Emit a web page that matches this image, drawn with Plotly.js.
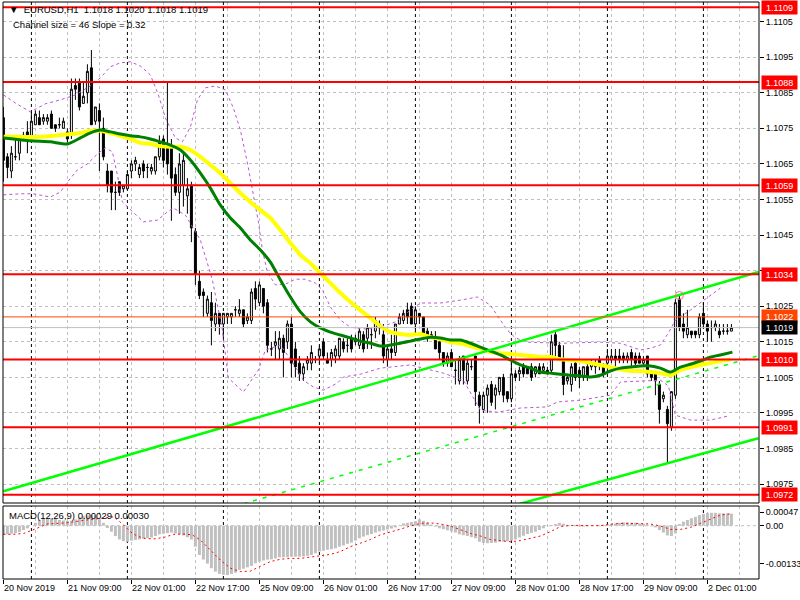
<!DOCTYPE html>
<html><head><meta charset="utf-8">
<script src="https://cdn.plot.ly/plotly-3.0.1.min.js"></script>
<style>html,body{margin:0;padding:0;background:#fff;}#chart{width:800px;height:600px;}</style>
</head><body><div id="chart"></div>
<script>
// ---- candle data (EURUSD H1, bar 0 = 20 Nov 2019 17:00) ----
const barOpen=[1.1078,1.1067,1.1063,1.1067,1.1068,1.1073,1.1074,1.1073,1.1076,1.1078,
1.1077,1.1077,1.1079,1.1076,1.1076,1.1075,1.1074,1.1073,1.1087,1.1088,
1.1082,1.1085,1.1092,1.1077,1.1080,1.1075,1.1063,1.1063,1.1057,1.1060,
1.1058,1.1058,1.1063,1.1065,1.1062,1.1065,1.1064,1.1063,1.1063,1.1067,
1.1072,1.1070,1.1070,1.1062,1.1057,1.1059,1.1056,1.1059,1.1046,1.1032,
1.1029,1.1023,1.1026,1.1020,1.1023,1.1020,1.1022,1.1022,1.1024,1.1023,
1.1024,1.1021,1.1021,1.1030,1.1026,1.1030,1.1026,1.1013,1.1014,1.1013,
1.1016,1.1015,1.1020,1.1013,1.1009,1.1006,1.1009,1.1009,1.1010,1.1011,
1.1015,1.1010,1.1010,1.1011,1.1011,1.1015,1.1014,1.1016,1.1015,1.1014,
1.1017,1.1016,1.1017,1.1018,1.1019,1.1017,1.1010,1.1013,1.1012,1.1020,
1.1021,1.1024,1.1025,1.1020,1.1023,1.1022,1.1018,1.1017,1.1016,1.1015,
1.1012,1.1009,1.1012,1.1007,1.1004,1.1011,1.1004,1.1008,1.1011,1.1000,
1.0996,1.1000,1.1003,1.1000,1.1001,1.1005,1.1001,1.0999,1.1006,1.1006,
1.1008,1.1008,1.1008,1.1006,1.1008,1.1007,1.1007,1.1007,1.1017,1.1014,
1.1010,1.1004,1.1003,1.1009,1.1007,1.1005,1.1008,1.1008,1.1008,1.1010,
1.1008,1.1009,1.1010,1.1011,1.1011,1.1011,1.1010,1.1012,1.1011,1.1011,
1.1009,1.1011,1.1006,1.1006,1.1003,1.0999,1.0996,1.0991,1.1000,1.1027,
1.1020,1.1017,1.1018,1.1018,1.1017,1.1023,1.1020,1.1019,1.1019,1.1018,
1.1018,1.1018,1.1018];
const barHigh=[1.1081,1.1068,1.1070,1.1073,1.1073,1.1074,1.1077,1.1080,1.1080,1.1080,
1.1079,1.1079,1.1080,1.1076,1.1078,1.1078,1.1075,1.1089,1.1089,1.1089,
1.1088,1.1093,1.1097,1.1081,1.1082,1.1078,1.1065,1.1063,1.1060,1.1060,
1.1059,1.1063,1.1066,1.1067,1.1065,1.1066,1.1065,1.1065,1.1067,1.1073,
1.1073,1.1088,1.1072,1.1064,1.1068,1.1068,1.1061,1.1060,1.1047,1.1035,
1.1030,1.1028,1.1029,1.1026,1.1023,1.1023,1.1023,1.1023,1.1025,1.1027,
1.1024,1.1023,1.1030,1.1032,1.1032,1.1030,1.1027,1.1015,1.1018,1.1018,
1.1017,1.1021,1.1022,1.1015,1.1011,1.1009,1.1011,1.1014,1.1011,1.1014,
1.1016,1.1012,1.1013,1.1014,1.1016,1.1016,1.1016,1.1017,1.1017,1.1019,
1.1018,1.1020,1.1019,1.1022,1.1021,1.1020,1.1014,1.1017,1.1020,1.1023,
1.1024,1.1026,1.1026,1.1025,1.1023,1.1022,1.1019,1.1018,1.1018,1.1015,
1.1012,1.1012,1.1013,1.1010,1.1011,1.1011,1.1010,1.1010,1.1011,1.1001,
1.1001,1.1003,1.1004,1.1003,1.1005,1.1006,1.1001,1.1009,1.1007,1.1008,
1.1009,1.1008,1.1009,1.1008,1.1009,1.1009,1.1008,1.1017,1.1018,1.1015,
1.1014,1.1006,1.1009,1.1010,1.1008,1.1008,1.1009,1.1010,1.1010,1.1011,
1.1009,1.1013,1.1013,1.1013,1.1013,1.1012,1.1012,1.1013,1.1012,1.1012,
1.1011,1.1011,1.1007,1.1006,1.1004,1.1001,1.0997,1.1001,1.1027,1.1028,
1.1023,1.1024,1.1018,1.1018,1.1023,1.1026,1.1021,1.1021,1.1021,1.1020,
1.1020,1.1020,1.1020];
const barLow=[1.1060,1.1061,1.1061,1.1066,1.1066,1.1072,1.1068,1.1072,1.1076,1.1076,
1.1076,1.1076,1.1075,1.1074,1.1075,1.1075,1.1071,1.1072,1.1083,1.1080,
1.1082,1.1082,1.1076,1.1076,1.1063,1.1066,1.1057,1.1052,1.1052,1.1056,
1.1057,1.1058,1.1061,1.1063,1.1061,1.1061,1.1061,1.1062,1.1062,1.1066,
1.1064,1.1062,1.1049,1.1056,1.1051,1.1053,1.1051,1.1043,1.1031,1.1027,
1.1022,1.1022,1.1014,1.1018,1.1017,1.1016,1.1020,1.1020,1.1022,1.1022,
1.1019,1.1020,1.1020,1.1024,1.1025,1.1023,1.1012,1.1011,1.1010,1.1010,
1.1005,1.1013,1.1005,1.1005,1.1004,1.1004,1.1007,1.1007,1.1009,1.1009,
1.1010,1.1009,1.1008,1.1009,1.1010,1.1012,1.1012,1.1012,1.1014,1.1013,
1.1012,1.1013,1.1013,1.1016,1.1017,1.1009,1.1008,1.1010,1.1011,1.1020,
1.1020,1.1020,1.1020,1.1017,1.1020,1.1016,1.1015,1.1016,1.1013,1.1010,
1.1008,1.1008,1.1008,1.1003,1.1003,1.1003,1.1003,1.1007,1.0997,1.0992,
1.0995,1.0995,1.0997,1.0996,1.1000,1.0998,1.0998,1.0998,1.1004,1.1004,
1.1005,1.1006,1.1004,1.1005,1.1006,1.1006,1.1006,1.1006,1.1011,1.1010,
1.1000,1.1003,1.1001,1.1004,1.1002,1.1004,1.1004,1.1007,1.1006,1.1007,
1.1005,1.1008,1.1009,1.1008,1.1009,1.1009,1.1009,1.1008,1.1008,1.1009,
1.1008,1.1005,1.1004,1.1000,1.0992,1.0998,1.0981,1.0990,1.0999,1.1018,
1.1016,1.1016,1.1016,1.1016,1.1016,1.1019,1.1015,1.1015,1.1018,1.1016,
1.1017,1.1017,1.1018];
const barClose=[1.1066,1.1064,1.1068,1.1067,1.1072,1.1073,1.1072,1.1077,1.1079,1.1076,
1.1078,1.1078,1.1075,1.1075,1.1076,1.1077,1.1072,1.1086,1.1086,1.1081,
1.1084,1.1091,1.1076,1.1081,1.1077,1.1067,1.1059,1.1057,1.1057,1.1057,
1.1059,1.1062,1.1065,1.1066,1.1064,1.1063,1.1064,1.1064,1.1067,1.1071,
1.1066,1.1065,1.1061,1.1057,1.1065,1.1066,1.1058,1.1047,1.1034,1.1028,
1.1028,1.1027,1.1021,1.1023,1.1020,1.1023,1.1023,1.1023,1.1024,1.1024,
1.1020,1.1022,1.1029,1.1027,1.1031,1.1025,1.1014,1.1013,1.1015,1.1016,
1.1012,1.1020,1.1009,1.1008,1.1006,1.1008,1.1010,1.1012,1.1010,1.1013,
1.1011,1.1009,1.1012,1.1013,1.1016,1.1013,1.1014,1.1013,1.1016,1.1018,
1.1013,1.1019,1.1017,1.1021,1.1020,1.1011,1.1013,1.1012,1.1020,1.1022,
1.1023,1.1022,1.1020,1.1024,1.1022,1.1017,1.1016,1.1016,1.1013,1.1012,
1.1009,1.1011,1.1008,1.1007,1.1010,1.1007,1.1009,1.1008,1.1001,1.0997,
1.1000,1.1002,1.0998,1.1002,1.1005,1.1000,1.0999,1.1006,1.1005,1.1007,
1.1006,1.1006,1.1005,1.1008,1.1006,1.1008,1.1006,1.1015,1.1014,1.1010,
1.1003,1.1005,1.1008,1.1005,1.1005,1.1008,1.1005,1.1009,1.1009,1.1009,
1.1006,1.1011,1.1011,1.1010,1.1010,1.1010,1.1011,1.1010,1.1009,1.1009,
1.1010,1.1006,1.1005,1.1004,1.0996,1.1000,1.0992,1.1001,1.1026,1.1019,
1.1018,1.1019,1.1017,1.1017,1.1022,1.1020,1.1018,1.1019,1.1020,1.1017,
1.1018,1.1018,1.1019];

// ---- moving averages (sampled along the bars) ----
const maGreenX=[0,6.75,11.75,16,19.25,21.75,24.25,26.75,29.25,31.75,34.25,36.75,39.25,41.75,44.25,46.75,49.25,51.75,54.25,56.75,59.25,61.75,64.25,66.75,69.25,71.75,74.25,76.75,79.25,81.75,84.25,86.75,89.25,91.75,94.25,96.75,99.25,101.75,104.25,106.75,109.25,111.75,114.25,116.75,119.25,121.75,124.25,126.75,129.25,131.75,134.25,136.75,139.25,141.75,144.25,146.75,149.25,151.75,154.25,156.75,159.25,161.75,164.25,166.75,169.25,171.75,174.25,176.75,179.25,182.25];
const maGreenY=[1.10723,1.10715,1.10712,1.10706,1.10723,1.10737,1.10745,1.10740,1.10734,1.10729,1.10726,1.10720,1.10712,1.10703,1.10689,1.10661,1.10624,1.10582,1.10534,1.10498,1.10470,1.10436,1.10408,1.10374,1.10324,1.10276,1.10234,1.10206,1.10189,1.10177,1.10169,1.10161,1.10152,1.10146,1.10138,1.10141,1.10146,1.10152,1.10158,1.10163,1.10161,1.10155,1.10155,1.10146,1.10135,1.10124,1.10113,1.10099,1.10085,1.10076,1.10065,1.10062,1.10059,1.10056,1.10054,1.10051,1.10056,1.10068,1.10076,1.10079,1.10082,1.10082,1.10076,1.10065,1.10079,1.10087,1.10096,1.10107,1.10113,1.10121];
const maYellowX=[0,4.25,9.25,14.25,19.25,21.75,24.25,26.75,29.25,31.75,34.25,36.75,39.25,41.75,44.25,46.75,49.25,51.75,54.25,56.75,59.25,61.75,64.25,66.75,69.25,71.75,74.25,76.75,79.25,81.75,84.25,86.75,89.25,91.75,94.25,96.75,99.25,101.75,104.25,106.75,109.25,111.75,114.25,116.75,119.25,121.75,124.25,126.75,129.25,131.75,134.25,136.75,139.25,141.75,144.25,149.25,151.75,154.25,156.75,159.25,161.75,164.25,166.75,169.25,171.75,174.25,176.75,179.25,181.75];
const maYellowY=[1.10726,1.10726,1.10726,1.10731,1.10737,1.10743,1.10743,1.10737,1.10729,1.10720,1.10709,1.10706,1.10700,1.10698,1.10698,1.10689,1.10670,1.10647,1.10624,1.10596,1.10568,1.10543,1.10520,1.10498,1.10464,1.10428,1.10394,1.10371,1.10343,1.10315,1.10287,1.10262,1.10239,1.10217,1.10194,1.10177,1.10172,1.10169,1.10172,1.10163,1.10158,1.10149,1.10146,1.10138,1.10130,1.10121,1.10118,1.10116,1.10113,1.10110,1.10107,1.10107,1.10101,1.10099,1.10096,1.10085,1.10079,1.10073,1.10068,1.10068,1.10065,1.10062,1.10056,1.10071,1.10079,1.10085,1.10090,1.10096,1.10101];

// ---- bands (purple dotted) ----
const bandUpX=[0,3,6.75,10.5,14.25,18,21.75,24.25,26.75,29.25,31.75,34.25,36.75,38.75,40.5,43,44.75,46.75,48.5,50.5,53,55.5,57.5,59.25,61,62.5,63.75,64.75,66,68,70.5,73,75.5,78,79.75,81.75,84.25,86.75,90.5,94.25,98,101.75,104.25,109.25,114.25,118.5,121.75,124.25,126,128,131,139.25,149.25,154.25,159.25,161.75,164.25,166.25,168,171.75,174.25,176.75,179.25];
const bandUpY=[1.10844,1.10821,1.10796,1.10819,1.10830,1.10844,1.10869,1.10892,1.10923,1.10934,1.10937,1.10925,1.10900,1.10844,1.10779,1.10723,1.10712,1.10754,1.10830,1.10864,1.10869,1.10858,1.10807,1.10745,1.10653,1.10557,1.10487,1.10408,1.10346,1.10310,1.10312,1.10326,1.10326,1.10315,1.10296,1.10248,1.10211,1.10191,1.10186,1.10191,1.10206,1.10239,1.10259,1.10259,1.10267,1.10276,1.10253,1.10211,1.10183,1.10161,1.10149,1.10146,1.10149,1.10146,1.10127,1.10132,1.10141,1.10175,1.10211,1.10239,1.10259,1.10281,1.10301];
const bandLoX=[0,4.25,7.5,11.75,14.25,16,18.5,21,23.5,25.5,27.25,28.5,29.75,31.75,35,38.5,41,42.5,45.5,49.25,52.25,54.75,56.25,60,63.75,65.5,69.25,72.25,75,77.5,80,83.5,85,89.25,94.25,101.75,110,115,119.25,123.5,129.25,136,138.5,144.25,151.75,154.25,161.75,164.25,166.25,168,171.75,176.75,181];
const bandLoY=[1.10563,1.10566,1.10566,1.10557,1.10571,1.10599,1.10633,1.10650,1.10678,1.10695,1.10684,1.10619,1.10543,1.10521,1.10487,1.10492,1.10515,1.10526,1.10506,1.10436,1.10324,1.10183,1.10048,1.10009,1.10071,1.10127,1.10141,1.10093,1.10042,1.10023,1.10014,1.10034,1.10051,1.10059,1.10076,1.10085,1.10062,1.10042,1.09958,1.09952,1.09964,1.09967,1.09981,1.09986,1.10000,1.10037,1.10040,1.10042,1.10026,1.09944,1.09930,1.09930,1.09941];

// ---- regression channel ----
const chanUpX=[0,188.75], chanUpY=[1.09730,1.10346];
const chanLoX=[125,188.75], chanLoY=[1.09682,1.09879];
const chanMidX=[60,188.75], chanMidY=[1.09695,1.10111];

// ---- horizontal levels ----
const levels=[1.1109,1.1088,1.1059,1.1034,1.1010,1.0991,1.0972];
const askPrice=1.1022, bidPrice=1.1019;
const alertX=[169], alertY=[1.1028];

// ---- MACD(12,26,9) ----
const macdHist=[-0.00032,-0.00030,-0.00028,-0.00026,-0.00022,-0.00015,-0.00009,0.00000,0.00010,0.00020,
0.00026,0.00025,0.00023,0.00024,0.00020,0.00018,0.00017,0.00017,0.00022,0.00029,
0.00033,0.00036,0.00037,0.00035,0.00022,0.00010,-0.00008,-0.00021,-0.00036,-0.00048,
-0.00054,-0.00056,-0.00052,-0.00050,-0.00048,-0.00045,-0.00043,-0.00041,-0.00036,-0.00030,
-0.00028,-0.00026,-0.00024,-0.00027,-0.00030,-0.00034,-0.00040,-0.00048,-0.00073,-0.00102,
-0.00118,-0.00132,-0.00148,-0.00160,-0.00168,-0.00171,-0.00172,-0.00168,-0.00164,-0.00154,
-0.00150,-0.00145,-0.00140,-0.00131,-0.00125,-0.00121,-0.00118,-0.00117,-0.00114,-0.00110,
-0.00110,-0.00110,-0.00108,-0.00108,-0.00108,-0.00107,-0.00105,-0.00102,-0.00096,-0.00090,
-0.00087,-0.00084,-0.00082,-0.00079,-0.00073,-0.00069,-0.00063,-0.00059,-0.00052,-0.00044,
-0.00038,-0.00033,-0.00029,-0.00024,-0.00020,-0.00017,-0.00013,-0.00010,-0.00006,-0.00001,
0.00008,0.00010,0.00013,0.00016,0.00022,0.00017,0.00010,0.00004,-0.00003,-0.00009,
-0.00012,-0.00016,-0.00020,-0.00024,-0.00030,-0.00033,-0.00036,-0.00040,-0.00044,-0.00056,
-0.00060,-0.00061,-0.00060,-0.00059,-0.00056,-0.00056,-0.00054,-0.00052,-0.00048,-0.00041,
-0.00035,-0.00029,-0.00025,-0.00021,-0.00015,-0.00009,-0.00002,0.00002,0.00006,0.00010,
0.00007,0.00003,0.00000,-0.00001,-0.00003,-0.00003,-0.00002,-0.00001,0.00000,0.00001,
0.00002,0.00005,0.00007,0.00008,0.00010,0.00012,0.00011,0.00010,0.00010,0.00008,
0.00007,0.00003,-0.00002,-0.00006,-0.00015,-0.00024,-0.00034,-0.00036,-0.00027,0.00006,
0.00014,0.00020,0.00026,0.00031,0.00037,0.00041,0.00044,0.00045,0.00045,0.00043,
0.00043,0.00043,0.00042];
const macdSigX=[0,2.6,5.1,6.75,8.4,10.9,15.9,20.9,24.25,27.6,30.1,31.75,33.4,35.1,37.6,40.1,42.6,45.1,47.2,49.25,51.75,54.25,56.75,59.25,61.75,64.25,66.75,69.25,71.75,74.25,76.75,79.25,81.75,84.25,86.75,89.25,91.75,94.25,96.75,99.25,101.75,104.25,106.75,109.25,111.75,114.25,116.75,119.25,121.75,124.25,126.75,129.25,131.75,134.25,136.75,139.25,141.75,144.25,146.75,149.25,151.75,154.25,156.75,159.25,161.75,164.25,166.75,169.25,171.75,174.25,176.75,179.25,181.75];
const macdSigY=[-0.00030,-0.00030,-0.00027,-0.00019,-0.00009,0.00006,0.00010,0.00020,0.00026,0.00031,0.00002,-0.00021,-0.00036,-0.00044,-0.00046,-0.00041,-0.00030,-0.00029,-0.00032,-0.00050,-0.00085,-0.00120,-0.00148,-0.00160,-0.00158,-0.00142,-0.00125,-0.00117,-0.00114,-0.00114,-0.00110,-0.00106,-0.00100,-0.00090,-0.00073,-0.00061,-0.00048,-0.00032,-0.00023,-0.00012,-0.00001,0.00008,0.00010,0.00006,-0.00001,-0.00015,-0.00027,-0.00036,-0.00048,-0.00052,-0.00056,-0.00052,-0.00044,-0.00036,-0.00021,-0.00003,0.00001,0.00000,-0.00001,0.00000,0.00005,0.00008,0.00008,0.00008,0.00006,-0.00001,-0.00013,-0.00013,-0.00006,0.00008,0.00022,0.00037,0.00041];

// ---- axes labels ----
const priceTicks=[1.1105,1.1095,1.1085,1.1075,1.1065,1.1055,1.1045,1.1035,1.1025,1.1015,1.1005,1.0995,1.0985,1.0975];
const priceTickText=['1.1105','1.1095','1.1085','1.1075','1.1065','1.1055','1.1045','','1.1025','1.1015','1.1005','1.0995','1.0985','1.0975'];
const macdTicks=[0.00047,0,-0.00133];
const macdTickText=['0.00047','0.00','-0.00133'];
const timeTicks=[0,16,32,48,64,80,96,112,128,144,160,176];
const timeLabels=['20 Nov 2019','21 Nov 09:00','22 Nov 01:00','22 Nov 17:00','25 Nov 09:00','26 Nov 01:00','26 Nov 17:00','27 Nov 09:00','28 Nov 01:00','28 Nov 17:00','29 Nov 09:00','2 Dec 01:00'];
const daySeparators=[7,31,55,79,103,127,151,175];

const barIdx=barOpen.map((_,i)=>i);
const FONT='Liberation Sans, Arial, sans-serif';
const GRID='#c0c0c0';

const traces=[
 {type:'scatter',mode:'lines',x:bandUpX,y:bandUpY,line:{color:'#BA55D3',width:1,dash:'3px,3px'},hoverinfo:'skip'},
 {type:'scatter',mode:'lines',x:bandLoX,y:bandLoY,line:{color:'#BA55D3',width:1,dash:'3px,3px'},hoverinfo:'skip'},
 {type:'scatter',mode:'lines',x:maYellowX,y:maYellowY,line:{color:'#FFFF00',width:4,shape:'spline',smoothing:0.6},hoverinfo:'skip'},
 {type:'scatter',mode:'lines',x:maGreenX,y:maGreenY,line:{color:'#008000',width:3,shape:'spline',smoothing:0.6},hoverinfo:'skip'},
 {type:'candlestick',x:barIdx,open:barOpen,high:barHigh,low:barLow,close:barClose,
  increasing:{line:{color:'#000000',width:1},fillcolor:'#FFFFFF'},
  decreasing:{line:{color:'#000000',width:1},fillcolor:'#000000'},whiskerwidth:0},
 {type:'scatter',mode:'lines',x:chanUpX,y:chanUpY,line:{color:'#00FF00',width:2.5},hoverinfo:'skip'},
 {type:'scatter',mode:'lines',x:chanLoX,y:chanLoY,line:{color:'#00FF00',width:2.5},hoverinfo:'skip'},
 {type:'scatter',mode:'lines',x:chanMidX,y:chanMidY,line:{color:'#00FF00',width:1.5,dash:'4px,6px'},hoverinfo:'skip'},
 {type:'scatter',mode:'markers',x:alertX,y:alertY,marker:{symbol:'circle-open',size:8,color:'#FF6A8A',line:{width:1}},hoverinfo:'skip'},
 {type:'bar',x:barIdx,y:macdHist,yaxis:'y2',marker:{color:'#C0C0C0',line:{width:0}},hoverinfo:'skip'},
 {type:'scatter',mode:'lines',x:macdSigX,y:macdSigY,yaxis:'y2',line:{color:'#FF0000',width:1,dash:'2px,3px'},hoverinfo:'skip'}
];

const mainBottom=(579-503)/577, macdTop=(579-506)/577;
const shapes=[];
daySeparators.forEach(d=>{
 shapes.push({type:'line',xref:'x',yref:'y domain',x0:d,x1:d,y0:0,y1:1,line:{color:'#000',width:1,dash:'3px,3px'},layer:'below'});
 shapes.push({type:'line',xref:'x',yref:'y2 domain',x0:d,x1:d,y0:0,y1:1,line:{color:'#000',width:1,dash:'3px,3px'},layer:'below'});
});
shapes.push({type:'line',xref:'paper',yref:'y2',x0:0,x1:1,y0:0,y1:0,line:{color:GRID,width:1,dash:'3px,3px'},layer:'below'});
shapes.push({type:'line',xref:'paper',yref:'y',x0:0,x1:1,y0:askPrice,y1:askPrice,line:{color:'#FF4500',width:1},layer:'above'});
shapes.push({type:'line',xref:'paper',yref:'y',x0:0,x1:1,y0:bidPrice,y1:bidPrice,line:{color:'#C0C0C0',width:1},layer:'above'});
levels.forEach(l=>{
 shapes.push({type:'line',xref:'paper',yref:'y',x0:0,x1:1,y0:l,y1:l,line:{color:'#FF0000',width:2},layer:'above'});
});
shapes.push({type:'rect',xref:'paper',yref:'paper',x0:0,x1:1,y0:mainBottom,y1:1,line:{color:'#000',width:1},fillcolor:'rgba(0,0,0,0)',layer:'above'});
shapes.push({type:'rect',xref:'paper',yref:'paper',x0:0,x1:1,y0:0,y1:macdTop,line:{color:'#000',width:1},fillcolor:'rgba(0,0,0,0)',layer:'above'});

function boxLabel(v,bg){
 return {xref:'paper',x:1,xanchor:'left',xshift:2,yref:'y',y:v,yanchor:'middle',text:v.toFixed(4),showarrow:false,
  font:{family:FONT,size:9,color:'#FFFFFF'},bgcolor:bg,borderpad:1,width:33,height:11,align:'center'};
}
const annotations=levels.map(l=>boxLabel(l,'#FF0000'));
annotations.push(boxLabel(askPrice,'#FF4500'));
annotations.push(boxLabel(bidPrice,'#000000'));
annotations.push({xref:'paper',yref:'paper',x:(7-3)/756,y:(579-10)/577,xanchor:'left',yanchor:'middle',showarrow:false,
 text:'▼  EURUSD,H1  1.1018 1.1020 1.1018 1.1019',font:{family:FONT,size:9.5,color:'#000'}});
annotations.push({xref:'paper',yref:'paper',x:(11-3)/756,y:(579-24)/577,xanchor:'left',yanchor:'middle',showarrow:false,
 text:'Channel size = 46 Slope = 0.32',font:{family:FONT,size:9.5,color:'#000'}});
annotations.push({xref:'paper',yref:'paper',x:(7-3)/756,y:(579-515)/577,xanchor:'left',yanchor:'middle',showarrow:false,
 text:'MACD(12,26,9) 0.00029 0.00030',font:{family:FONT,size:9.5,color:'#000'}});

const layout={
 width:800,height:600,margin:{l:3,r:41,t:2,b:21,pad:0},
 paper_bgcolor:'#FFFFFF',plot_bgcolor:'#FFFFFF',showlegend:false,bargap:0.25,
 xaxis:{range:[-0.1,188.9],anchor:'y2',tickmode:'array',tickvals:timeTicks,ticktext:timeLabels,
  ticks:'outside',ticklen:4,tickcolor:'#000',ticklabelposition:'outside right',
  tickfont:{family:FONT,size:9,color:'#000'},showgrid:true,gridcolor:GRID,griddash:'3px,3px',gridwidth:1,
  minor:{tickmode:'linear',tick0:0,dtick:8,showgrid:true,gridcolor:GRID,griddash:'3px,3px',gridwidth:1,ticks:''},
  zeroline:false,showline:false,rangeslider:{visible:false},fixedrange:true},
 yaxis:{domain:[mainBottom,1],range:[1.09697,1.11105],side:'right',anchor:'x',tickmode:'array',tickvals:priceTicks,
  ticktext:priceTickText,ticks:'outside',ticklen:4,tickcolor:'#000',
  tickfont:{family:FONT,size:9,color:'#000'},showgrid:true,gridcolor:GRID,griddash:'3px,3px',gridwidth:1,
  zeroline:false,showline:false,fixedrange:true},
 yaxis2:{domain:[0,macdTop],range:[-0.001857,0.000686],side:'right',anchor:'x',tickmode:'array',tickvals:macdTicks,
  ticktext:macdTickText,ticks:'outside',ticklen:4,tickcolor:'#000',
  tickfont:{family:FONT,size:9,color:'#000'},showgrid:false,zeroline:false,showline:false,fixedrange:true},
 shapes:shapes,annotations:annotations
};
Plotly.newPlot('chart',traces,layout,{staticPlot:true,displayModeBar:false});
</script></body></html>
